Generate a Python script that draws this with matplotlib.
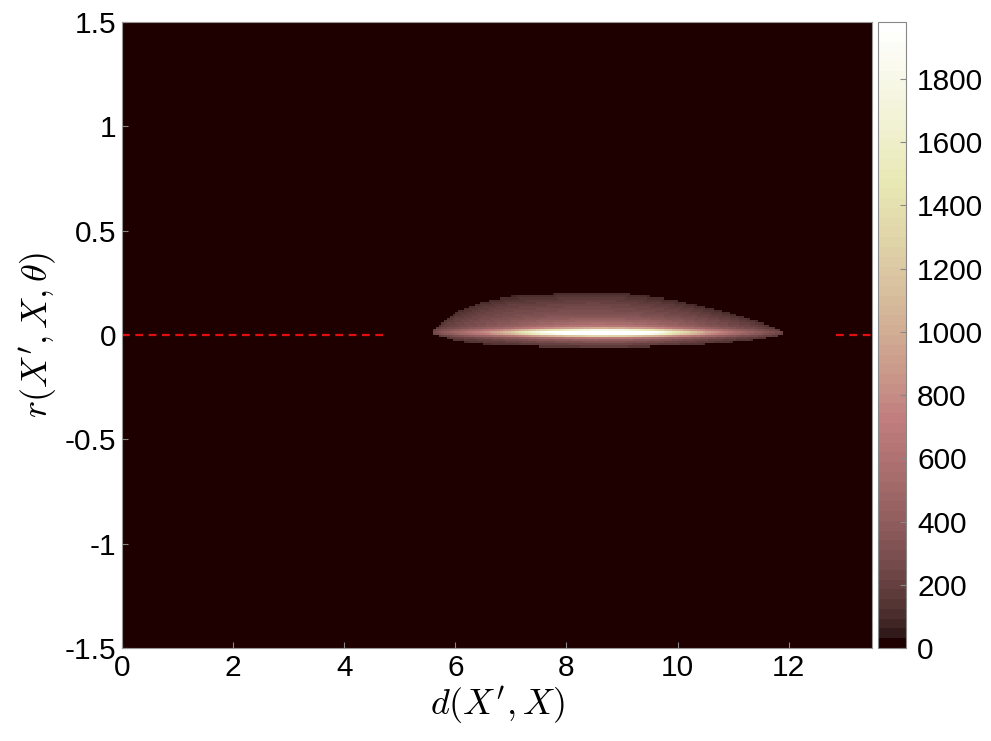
import numpy as np
import matplotlib.pyplot as plt

plt.rcParams['font.family'] = ['Liberation Sans', 'DejaVu Sans']
plt.rcParams['mathtext.fontset'] = 'cm'

# profile of the density blob (x knots in d(X',X))
knot_x = [5.6, 6.0, 6.5, 7.0, 7.5, 8.0, 8.5, 9.0, 9.5, 10.0, 10.5, 11.0, 11.5, 11.9]
top_edge = [0.025, 0.11, 0.16, 0.185, 0.19, 0.20, 0.205, 0.20, 0.185, 0.165, 0.135, 0.10, 0.06, 0.02]
bottom_edge = [0.005, -0.03, -0.045, -0.05, -0.055, -0.058, -0.06, -0.06, -0.055, -0.05, -0.045, -0.035, -0.02, 0.0]
core_peak = [100, 250, 450, 750, 1250, 1600, 1900, 1850, 1500, 1000, 600, 320, 160, 80]
halo_level = [50, 100, 150, 180, 200, 210, 210, 200, 190, 170, 140, 110, 80, 40]
edge_level = 90
core_y = 0.012

# red dashed reference line at r = 0 (visible pieces)
line_starts = [0.0, 12.85]
line_ends = [4.75, 13.5]

cbar_ticks = [0, 200, 400, 600, 800, 1000, 1200, 1400, 1600, 1800]
vmax = 1980

# histogram grid
x_edges = np.arange(0, 13.5 + 1e-9, 0.05)
y_edges = np.arange(-1.5, 1.5 + 1e-9, 0.01)
xc = 0.5 * (x_edges[:-1] + x_edges[1:])
yc = 0.5 * (y_edges[:-1] + y_edges[1:])
X, Y = np.meshgrid(xc, yc)

inside_x = (X >= knot_x[0]) & (X <= knot_x[-1])
top = np.interp(X, knot_x, top_edge)
bot = np.interp(X, knot_x, bottom_edge)
peak = np.interp(X, knot_x, core_peak)
halo = np.interp(X, knot_x, halo_level)
mid = 0.5 * (top + bot)
half = 0.5 * (top - bot)
u = np.clip(1 - ((Y - mid) / half) ** 2, 0, None)
counts = (edge_level + halo * u
          + peak * np.exp(-0.5 * ((Y - core_y) / 0.012) ** 2)
          + 0.25 * peak * np.exp(-0.5 * ((Y - core_y - 0.005) / 0.035) ** 2))
counts = np.where(inside_x & (Y <= top) & (Y >= bot), counts, 0)

fig = plt.figure(figsize=(9.91, 7.41), dpi=100)
ax = fig.add_axes([122 / 991, 93 / 741, 750 / 991, 626 / 741])
cax = fig.add_axes([878 / 991, 93 / 741, 28 / 991, 626 / 741])

cmap = plt.get_cmap('pink', 64)
im = ax.pcolormesh(x_edges, y_edges, counts, cmap=cmap, vmin=0, vmax=vmax)
for s, e in zip(line_starts, line_ends):
    ax.plot([s, e], [0, 0], '--', color='#e01010', lw=1.6, dashes=(3.5, 2.5))

ax.set_xlim(0, 13.5)
ax.set_ylim(-1.5, 1.5)
ax.set_xticks([0, 2, 4, 6, 8, 10, 12])
ax.set_yticks([-1.5, -1, -0.5, 0, 0.5, 1, 1.5])
ax.set_yticklabels(['-1.5', '-1', '-0.5', '0', '0.5', '1', '1.5'])
ax.tick_params(direction='in', length=4, labelsize=21.5, color='#888888', pad=4)
for sp in ax.spines.values():
    sp.set_color('#999999')
ax.set_xlabel(r"$d(X', X)$", fontsize=26, labelpad=2)
ax.set_ylabel(r"$r(X', X, \theta)$", fontsize=26, labelpad=4)

cb = fig.colorbar(im, cax=cax, ticks=cbar_ticks)
cb.outline.set_edgecolor('#888888')
cax.tick_params(direction='in', length=4, labelsize=21.5, color='#888888', pad=8)

fig.savefig('out.png', dpi=100)
